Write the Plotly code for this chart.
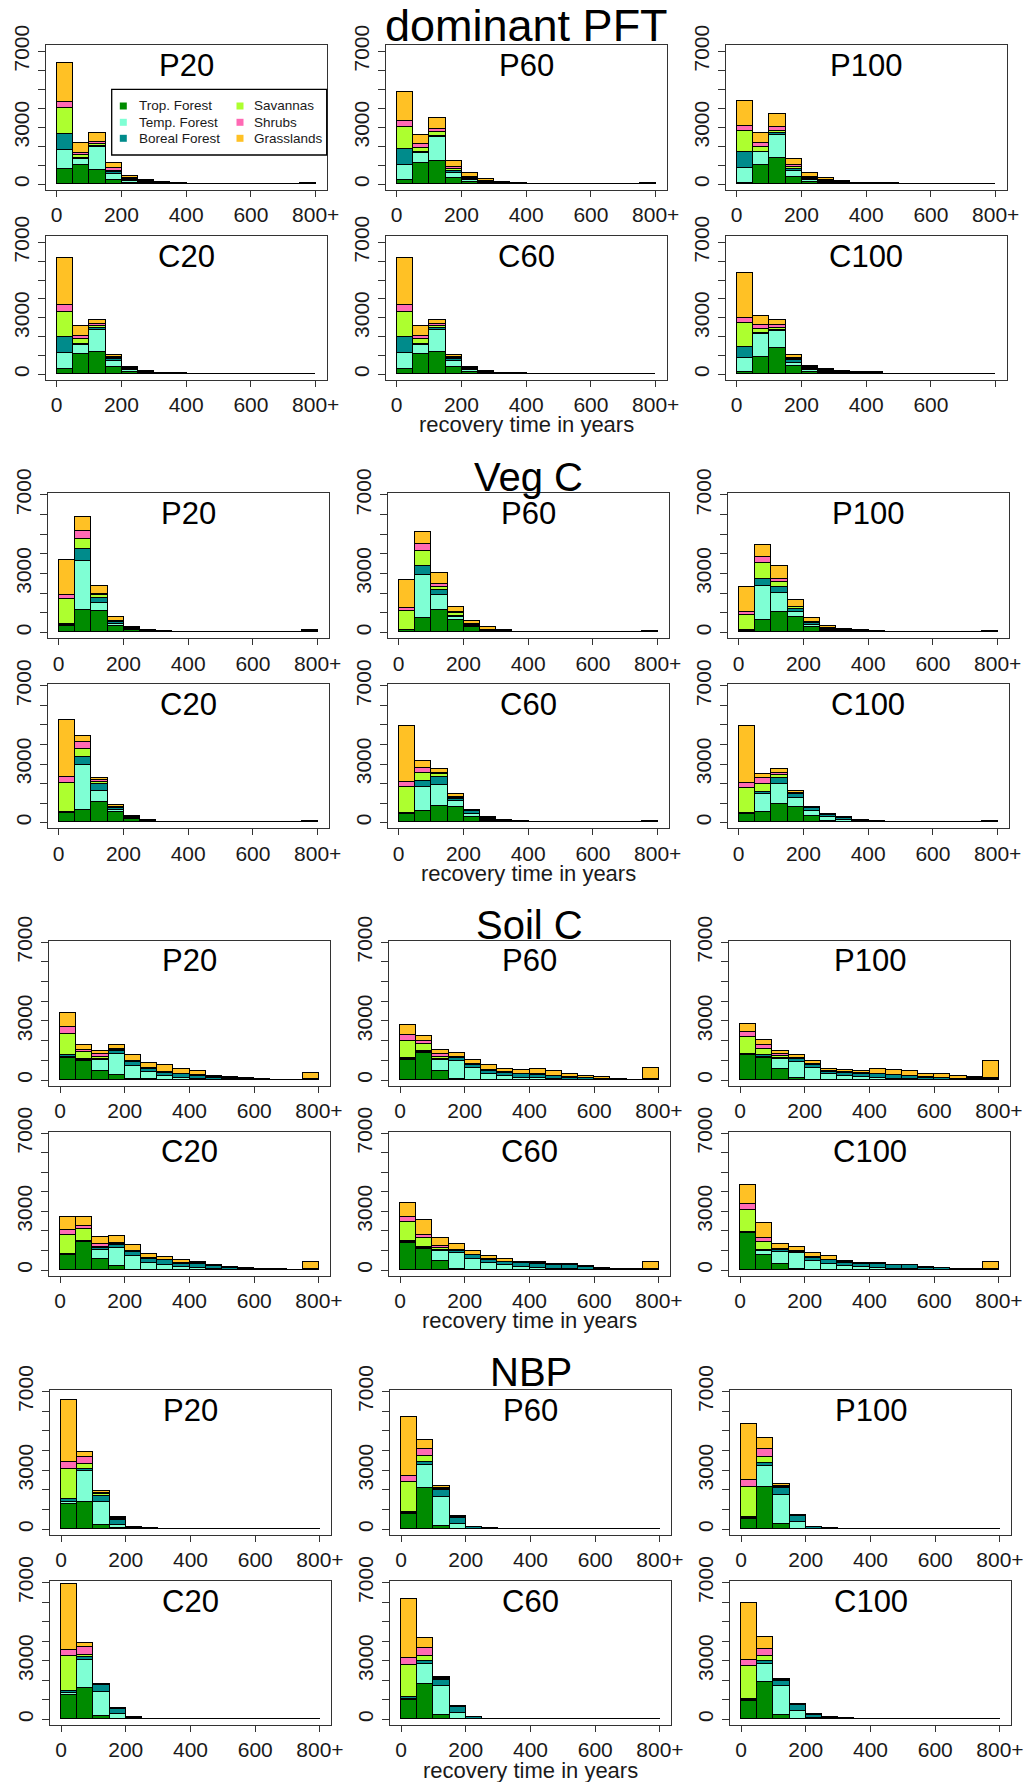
import plotly.graph_objects as go

W, H = 1025, 1782

# ---------------- data ----------------
categories = ["Trop. Forest", "Temp. Forest", "Boreal Forest", "Savannas", "Shrubs", "Grasslands"]
colors = ["#008B00", "#7FFFD4", "#008B8B", "#ADFF2F", "#FF69B4", "#FFC125"]
bin_left = [0, 50, 100, 150, 200, 250, 300, 350, 400, 450, 500, 550, 600, 650, 700, 750]
bin_width = 50

section_titles = ["dominant PFT", "Veg C", "Soil C", "NBP"]
section_title_sizes = [45, 40, 40, 40]
panel_titles = ["P20", "P60", "P100", "C20", "C60", "C100"]
x_label = "recovery time in years"
x_tick_vals = [0, 200, 400, 600, 800]
x_tick_text = ["0", "200", "400", "600", "800+"]
x_tick_text_short = ["0", "200", "400", "600", ""]
y_tick_vals = [0, 1000, 2000, 3000, 4000, 5000, 6000, 7000]
y_tick_text = ["0", "", "", "3000", "", "", "", "7000"]

# each row: one bin, values per category [trop, temp, boreal, sav, shrub, grass]
pft_P20 = [
    [790, 1020, 820, 1410, 310, 2050], [1020, 300, 80, 140, 130, 520],
    [750, 1200, 90, 80, 130, 430], [230, 310, 90, 90, 120, 260],
    [80, 100, 60, 60, 40, 100], [40, 50, 40, 30, 20, 50],
    [25, 30, 25, 20, 15, 25], [10, 15, 10, 10, 5, 10],
    [8, 10, 8, 6, 4, 4], [6, 8, 6, 4, 3, 3],
    [5, 6, 5, 4, 3, 2], [3, 4, 3, 2, 2, 1],
    [2, 3, 2, 1, 1, 1], [2, 2, 1, 1, 1, 1],
    [1, 1, 1, 1, 1, 1], [10, 10, 10, 10, 10, 10],
]
pft_P60 = [
    [230, 790, 840, 1180, 310, 1530], [1100, 530, 50, 250, 170, 500],
    [1250, 1220, 90, 180, 170, 560], [320, 290, 90, 90, 140, 300],
    [140, 80, 60, 50, 40, 210], [40, 40, 30, 20, 20, 110],
    [30, 30, 25, 20, 15, 20], [15, 15, 15, 10, 10, 15],
    [8, 8, 8, 6, 5, 5], [6, 6, 6, 5, 4, 3],
    [3, 3, 3, 2, 2, 2], [2, 2, 2, 1, 1, 1],
    [1, 1, 1, 1, 1, 1], [1, 1, 1, 1, 1, 1],
    [1, 1, 1, 1, 1, 1], [10, 10, 10, 10, 10, 10],
]
pft_P100 = [
    [90, 790, 800, 1140, 270, 1300], [1020, 660, 40, 260, 180, 520],
    [1370, 1230, 80, 140, 220, 640], [400, 320, 70, 140, 90, 310],
    [130, 90, 70, 60, 50, 180], [50, 60, 40, 40, 30, 130],
    [40, 40, 30, 25, 20, 25], [20, 20, 15, 15, 10, 10],
    [20, 20, 15, 15, 10, 10], [10, 10, 10, 8, 6, 6],
    [2, 2, 2, 1, 1, 1], [1, 1, 1, 1, 1, 1],
    [1, 1, 1, 1, 1, 1], [1, 1, 1, 1, 1, 1],
    [1, 1, 1, 1, 1, 1], [1, 1, 1, 1, 1, 1],
]
pft_C20 = [
    [300, 840, 820, 1370, 350, 2500], [1090, 490, 50, 250, 140, 520],
    [1190, 1180, 70, 100, 130, 220], [390, 310, 90, 50, 70, 110],
    [140, 80, 60, 40, 40, 40], [50, 40, 30, 20, 20, 20],
    [20, 20, 15, 10, 10, 5], [20, 15, 15, 10, 8, 5],
    [3, 3, 2, 2, 1, 1], [1, 1, 1, 1, 1, 1],
    [1, 1, 1, 1, 1, 1], [1, 1, 1, 1, 1, 1],
    [1, 1, 1, 1, 1, 1], [1, 1, 1, 1, 1, 1],
    [1, 1, 1, 1, 1, 1], [1, 1, 1, 1, 1, 1],
]
pft_C60 = [
    [300, 840, 820, 1370, 350, 2500], [1090, 490, 50, 250, 140, 520],
    [1190, 1180, 70, 100, 130, 220], [390, 310, 90, 50, 70, 110],
    [140, 80, 60, 40, 40, 40], [50, 40, 30, 20, 20, 20],
    [20, 20, 15, 10, 10, 5], [20, 15, 15, 10, 8, 5],
    [3, 3, 2, 2, 1, 1], [1, 1, 1, 1, 1, 1],
    [1, 1, 1, 1, 1, 1], [1, 1, 1, 1, 1, 1],
    [1, 1, 1, 1, 1, 1], [1, 1, 1, 1, 1, 1],
    [1, 1, 1, 1, 1, 1], [1, 1, 1, 1, 1, 1],
]
pft_C100 = [
    [120, 760, 560, 1280, 260, 2370], [910, 1230, 50, 230, 210, 480],
    [1400, 880, 50, 130, 170, 260], [440, 170, 130, 80, 60, 140],
    [120, 100, 80, 50, 40, 50], [60, 60, 50, 30, 30, 30],
    [40, 40, 30, 25, 20, 25], [30, 30, 25, 20, 15, 20],
    [30, 30, 25, 20, 15, 20], [5, 5, 4, 3, 2, 1],
    [1, 1, 1, 1, 1, 1], [1, 1, 1, 1, 1, 1],
    [1, 1, 1, 1, 1, 1], [1, 1, 1, 1, 1, 1],
    [1, 1, 1, 1, 1, 1], [1, 1, 1, 1, 1, 1],
]

vegc_P20 = [
    [310, 50, 60, 1290, 210, 1760], [1150, 2460, 630, 520, 380, 710],
    [1070, 420, 260, 130, 70, 420], [310, 100, 90, 30, 30, 200],
    [100, 40, 40, 15, 15, 60], [50, 30, 25, 10, 10, 15],
    [25, 15, 15, 5, 5, 5], [15, 8, 8, 3, 3, 3],
    [10, 6, 6, 3, 3, 2], [3, 2, 2, 1, 1, 1],
    [2, 2, 1, 1, 1, 1], [2, 1, 1, 1, 1, 1],
    [1, 1, 1, 1, 1, 1], [1, 1, 1, 1, 1, 1],
    [1, 1, 1, 1, 1, 1], [30, 20, 20, 10, 10, 10],
]
vegc_P60 = [
    [100, 20, 20, 930, 170, 1440], [730, 2170, 490, 730, 370, 610],
    [1150, 730, 290, 140, 150, 560], [640, 140, 70, 130, 50, 260],
    [270, 60, 50, 20, 20, 170], [60, 30, 20, 10, 10, 120],
    [40, 20, 15, 5, 5, 15], [15, 10, 8, 3, 2, 2],
    [8, 5, 4, 2, 2, 1], [6, 4, 3, 2, 2, 1],
    [5, 3, 3, 1, 1, 1], [1, 1, 1, 1, 1, 1],
    [1, 1, 1, 1, 1, 1], [1, 1, 1, 1, 1, 1],
    [1, 1, 1, 1, 1, 1], [25, 20, 15, 10, 5, 5],
]
vegc_P100 = [
    [80, 10, 10, 800, 130, 1280], [640, 1700, 370, 820, 280, 610],
    [1030, 970, 310, 230, 190, 630], [780, 250, 140, 100, 30, 330],
    [270, 120, 80, 20, 20, 220], [80, 60, 40, 20, 20, 120],
    [40, 40, 30, 15, 15, 50], [25, 25, 20, 10, 10, 10],
    [20, 20, 15, 5, 5, 5], [8, 8, 6, 3, 3, 2],
    [8, 8, 6, 3, 3, 2], [1, 1, 1, 1, 1, 1],
    [1, 1, 1, 1, 1, 1], [1, 1, 1, 1, 1, 1],
    [1, 1, 1, 1, 1, 1], [25, 20, 15, 5, 3, 2],
]
vegc_C20 = [
    [470, 40, 30, 1460, 340, 2910], [640, 2280, 440, 370, 370, 310],
    [1020, 590, 340, 120, 100, 120], [510, 120, 100, 40, 40, 70],
    [190, 40, 40, 20, 20, 30], [60, 15, 10, 5, 5, 5],
    [12, 6, 6, 2, 2, 2], [10, 5, 5, 2, 2, 1],
    [8, 4, 4, 2, 1, 1], [3, 2, 2, 1, 1, 1],
    [2, 1, 1, 1, 1, 1], [10, 6, 6, 3, 3, 2],
    [1, 1, 1, 1, 1, 1], [1, 1, 1, 1, 1, 1],
    [1, 1, 1, 1, 1, 1], [30, 20, 15, 5, 5, 5],
]
vegc_C60 = [
    [420, 30, 30, 1350, 240, 2880], [590, 1240, 290, 390, 290, 340],
    [850, 1050, 420, 140, 80, 170], [810, 290, 90, 80, 50, 120],
    [250, 170, 140, 30, 20, 20], [60, 60, 50, 30, 20, 30],
    [30, 30, 25, 15, 10, 10], [15, 12, 10, 5, 5, 3],
    [8, 6, 5, 3, 2, 1], [6, 5, 4, 2, 2, 1],
    [6, 5, 4, 2, 2, 1], [6, 5, 4, 2, 2, 1],
    [1, 1, 1, 1, 1, 1], [1, 1, 1, 1, 1, 1],
    [1, 1, 1, 1, 1, 1], [25, 20, 15, 5, 3, 2],
]
vegc_C100 = [
    [420, 30, 30, 1300, 250, 2890], [510, 930, 90, 420, 340, 200],
    [930, 1020, 340, 130, 120, 170], [810, 460, 170, 50, 30, 90],
    [310, 280, 120, 30, 20, 40], [80, 170, 120, 20, 15, 15],
    [30, 110, 70, 15, 10, 15], [15, 30, 30, 10, 10, 5],
    [10, 15, 15, 5, 3, 2], [5, 5, 5, 2, 2, 1],
    [5, 5, 5, 2, 2, 1], [1, 1, 1, 1, 1, 1],
    [1, 1, 1, 1, 1, 1], [1, 1, 1, 1, 1, 1],
    [1, 1, 1, 1, 1, 1], [25, 20, 15, 5, 3, 2],
]

soilc_P20 = [
    [1140, 60, 70, 1100, 340, 710], [980, 60, 60, 340, 90, 250],
    [470, 550, 80, 90, 130, 170], [290, 1070, 130, 50, 70, 200],
    [50, 660, 200, 30, 30, 300], [80, 340, 170, 20, 20, 270],
    [30, 170, 190, 30, 20, 320], [20, 110, 170, 20, 20, 220],
    [20, 60, 140, 20, 20, 210], [10, 30, 80, 15, 15, 70],
    [10, 20, 60, 20, 20, 40], [5, 10, 40, 15, 15, 15],
    [5, 10, 30, 10, 10, 15], [2, 3, 8, 3, 2, 2],
    [2, 3, 8, 3, 2, 2], [10, 10, 30, 10, 10, 300],
]
soilc_P60 = [
    [1050, 40, 40, 870, 290, 510], [1390, 50, 50, 340, 170, 240],
    [470, 550, 80, 90, 130, 210], [80, 900, 160, 30, 30, 210],
    [30, 610, 160, 20, 20, 180], [20, 320, 130, 20, 20, 250],
    [20, 180, 180, 20, 20, 170], [10, 130, 160, 20, 20, 200],
    [10, 90, 180, 20, 20, 270], [10, 60, 130, 20, 20, 220],
    [10, 30, 100, 20, 20, 160], [5, 20, 70, 15, 15, 95],
    [5, 15, 50, 10, 10, 80], [5, 10, 30, 10, 10, 15],
    [2, 4, 10, 5, 5, 4], [10, 10, 30, 10, 10, 560],
]
soilc_P100 = [
    [1270, 30, 30, 870, 260, 420], [1150, 40, 80, 310, 200, 290],
    [590, 480, 80, 80, 90, 170], [100, 830, 140, 30, 30, 140],
    [30, 610, 130, 20, 20, 170], [20, 290, 130, 15, 15, 120],
    [20, 200, 150, 15, 15, 110], [10, 160, 150, 15, 15, 120],
    [10, 110, 190, 15, 15, 220], [10, 70, 170, 20, 20, 250],
    [10, 50, 140, 20, 20, 220], [5, 30, 90, 15, 15, 155],
    [5, 20, 80, 15, 15, 175], [5, 10, 50, 10, 10, 115],
    [5, 10, 60, 15, 15, 65], [10, 10, 60, 15, 15, 870],
]
soilc_C20 = [
    [800, 20, 30, 960, 260, 640], [1470, 10, 20, 600, 170, 440],
    [580, 440, 120, 80, 120, 350], [200, 940, 170, 40, 40, 390],
    [40, 670, 220, 30, 20, 310], [30, 340, 210, 20, 20, 230],
    [20, 230, 260, 20, 20, 130], [10, 160, 170, 20, 20, 130],
    [10, 100, 210, 20, 20, 60], [10, 50, 170, 15, 15, 30],
    [5, 30, 80, 10, 10, 15], [5, 20, 50, 10, 10, 5],
    [5, 10, 40, 5, 5, 5], [3, 8, 25, 5, 5, 4],
    [2, 3, 8, 3, 2, 2], [10, 10, 30, 10, 10, 340],
]
soilc_C60 = [
    [1420, 30, 40, 1000, 260, 710], [1100, 40, 40, 460, 170, 770],
    [460, 510, 80, 90, 110, 390], [60, 820, 90, 30, 20, 320],
    [30, 560, 170, 20, 20, 170], [20, 350, 170, 20, 20, 170],
    [10, 240, 160, 20, 20, 130], [10, 150, 200, 20, 20, 10],
    [10, 130, 210, 20, 20, 20], [10, 80, 200, 20, 20, 10],
    [10, 70, 200, 20, 20, 20], [5, 30, 120, 15, 15, 15],
    [5, 20, 60, 10, 10, 15], [3, 8, 25, 5, 5, 4],
    [3, 8, 25, 5, 5, 4], [10, 10, 30, 10, 10, 350],
]
soilc_C100 = [
    [1900, 30, 40, 1110, 310, 1000], [800, 170, 60, 440, 210, 730],
    [340, 580, 100, 30, 30, 280], [50, 830, 60, 20, 20, 240],
    [30, 460, 140, 20, 20, 210], [20, 320, 170, 20, 20, 160],
    [10, 190, 170, 20, 20, 80], [10, 150, 180, 10, 10, 10],
    [10, 130, 200, 10, 10, 10], [10, 60, 180, 10, 10, 20],
    [10, 50, 190, 10, 10, 20], [5, 20, 110, 10, 10, 15],
    [5, 20, 90, 10, 10, 5], [5, 10, 40, 10, 10, 5],
    [3, 8, 25, 5, 5, 4], [10, 10, 40, 10, 10, 340],
]

nbp_P20 = [
    [1290, 120, 120, 1540, 370, 3140], [1370, 1600, 100, 250, 340, 260],
    [220, 1150, 340, 60, 60, 120], [50, 170, 250, 60, 50, 60],
    [10, 20, 40, 10, 10, 10], [5, 10, 20, 5, 5, 5],
    [2, 5, 8, 2, 2, 1], [0, 0, 0, 0, 0, 0],
    [0, 0, 0, 0, 0, 0], [0, 0, 0, 0, 0, 0],
    [0, 0, 0, 0, 0, 0], [0, 0, 0, 0, 0, 0],
    [0, 0, 0, 0, 0, 0], [0, 0, 0, 0, 0, 0],
    [0, 0, 0, 0, 0, 0], [0, 0, 0, 0, 0, 0],
]
nbp_P60 = [
    [760, 50, 50, 1560, 310, 3000], [2080, 1190, 140, 320, 340, 470],
    [170, 1460, 370, 60, 50, 90], [30, 220, 340, 40, 30, 30],
    [10, 30, 70, 10, 10, 10], [5, 10, 25, 5, 3, 2],
    [2, 5, 8, 2, 2, 1], [1, 2, 4, 1, 1, 1],
    [0, 0, 0, 0, 0, 0], [0, 0, 0, 0, 0, 0],
    [0, 0, 0, 0, 0, 0], [0, 0, 0, 0, 0, 0],
    [0, 0, 0, 0, 0, 0], [0, 0, 0, 0, 0, 0],
    [0, 0, 0, 0, 0, 0], [0, 0, 0, 0, 0, 0],
]
nbp_P100 = [
    [510, 60, 70, 1530, 340, 2850], [2140, 1100, 120, 330, 390, 580],
    [250, 1500, 330, 60, 40, 130], [30, 360, 290, 20, 15, 15],
    [10, 30, 70, 10, 10, 10], [5, 10, 25, 5, 3, 2],
    [2, 5, 8, 2, 2, 1], [2, 5, 8, 2, 2, 1],
    [0, 0, 0, 0, 0, 0], [0, 0, 0, 0, 0, 0],
    [0, 0, 0, 0, 0, 0], [0, 0, 0, 0, 0, 0],
    [0, 0, 0, 0, 0, 0], [0, 0, 0, 0, 0, 0],
    [0, 0, 0, 0, 0, 0], [0, 0, 0, 0, 0, 0],
]
nbp_C20 = [
    [1270, 80, 90, 1780, 340, 3390], [1610, 1440, 140, 120, 370, 220],
    [170, 1240, 370, 20, 10, 20], [30, 220, 260, 40, 20, 20],
    [10, 20, 50, 10, 5, 5], [5, 10, 20, 3, 1, 1],
    [2, 5, 8, 2, 2, 1], [0, 0, 0, 0, 0, 0],
    [0, 0, 0, 0, 0, 0], [0, 0, 0, 0, 0, 0],
    [0, 0, 0, 0, 0, 0], [0, 0, 0, 0, 0, 0],
    [0, 0, 0, 0, 0, 0], [0, 0, 0, 0, 0, 0],
    [0, 0, 0, 0, 0, 0], [0, 0, 0, 0, 0, 0],
]
nbp_C60 = [
    [980, 80, 80, 1660, 340, 3010], [1830, 1020, 120, 250, 420, 510],
    [220, 1510, 300, 60, 30, 30], [30, 280, 320, 20, 15, 15],
    [10, 30, 70, 10, 10, 10], [5, 10, 20, 3, 1, 1],
    [3, 8, 12, 3, 2, 2], [2, 5, 8, 2, 2, 1],
    [0, 0, 0, 0, 0, 0], [0, 0, 0, 0, 0, 0],
    [0, 0, 0, 0, 0, 0], [0, 0, 0, 0, 0, 0],
    [0, 0, 0, 0, 0, 0], [0, 0, 0, 0, 0, 0],
    [0, 0, 0, 0, 0, 0], [0, 0, 0, 0, 0, 0],
]
nbp_C100 = [
    [930, 60, 60, 1660, 340, 2920], [1920, 930, 120, 250, 370, 600],
    [220, 1470, 290, 40, 25, 25], [30, 390, 310, 10, 10, 10],
    [10, 60, 140, 20, 10, 10], [10, 30, 50, 10, 10, 10],
    [5, 10, 20, 5, 5, 5], [4, 10, 15, 5, 3, 3],
    [2, 5, 8, 2, 2, 1], [2, 5, 8, 2, 2, 1],
    [2, 5, 8, 2, 2, 1], [0, 0, 0, 0, 0, 0],
    [0, 0, 0, 0, 0, 0], [0, 0, 0, 0, 0, 0],
    [0, 0, 0, 0, 0, 0], [0, 0, 0, 0, 0, 0],
]

sections = [
    [pft_P20, pft_P60, pft_P100, pft_C20, pft_C60, pft_C100],
    [vegc_P20, vegc_P60, vegc_P100, vegc_C20, vegc_C60, vegc_C100],
    [soilc_P20, soilc_P60, soilc_P100, soilc_C20, soilc_C60, soilc_C100],
    [nbp_P20, nbp_P60, nbp_P100, nbp_C20, nbp_C60, nbp_C100],
]

# ---------------- layout geometry (pixels) ----------------
sec_x0 = [45.7, 47.7, 49.0, 50.0]
col_dx = 340
box_w = 281
rows_px = [
    [(45, 190), (236, 380)],
    [(493.3, 638.3), (684.3, 828.3)],
    [(940.7, 1085.7), (1131.7, 1275.7)],
    [(1390, 1535), (1581, 1725)],
]
y_ranges = [[-300, 7332], [-290, 7082], [-290, 7082], [-290, 7082]]
x_range = [-34, 834]
title_y = [25.5, 477.5, 924.5, 1372]

FONT = "Liberation Sans, Arial, sans-serif"
TXT = "#1a1a1a"
LINE = "#333333"


def px_x(p):
    return p / W


def px_y(p):
    return 1 - p / H


bin_mid = [b + bin_width / 2 for b in bin_left]

fig = go.Figure()
layout = {}
annotations = []
shapes = []
n = 0
for s in range(4):
    for r in range(2):
        for c in range(3):
            n += 1
            data = sections[s][r * 3 + c]
            xa = "x" if n == 1 else f"x{n}"
            ya = "y" if n == 1 else f"y{n}"
            for k in range(6):
                fig.add_trace(go.Bar(
                    x=bin_mid, y=[row[k] for row in data], width=[bin_width] * len(bin_mid),
                    marker=dict(color=colors[k], line=dict(color="black", width=1)),
                    xaxis=xa, yaxis=ya, showlegend=False, hoverinfo="skip",
                    name=categories[k]))
            x0 = sec_x0[s] + c * col_dx
            x1 = x0 + box_w
            y0, y1 = rows_px[s][r]
            ttext = x_tick_text_short if (s == 0 and r == 1 and c == 2) else x_tick_text
            layout["xaxis" if n == 1 else f"xaxis{n}"] = dict(
                domain=[px_x(x0), px_x(x1)], range=x_range, anchor=ya,
                showline=True, mirror=True, linecolor=LINE, linewidth=1.3,
                ticks="outside", ticklen=6, tickwidth=1.2, tickcolor=LINE,
                tickvals=x_tick_vals, ticktext=ttext,
                tickfont=dict(size=21, color=TXT, family=FONT),
                showgrid=False, zeroline=False, fixedrange=True, automargin=False)
            layout["yaxis" if n == 1 else f"yaxis{n}"] = dict(
                domain=[px_y(y1), px_y(y0)], range=y_ranges[s], anchor=xa,
                showline=True, mirror=True, linecolor=LINE, linewidth=1.3,
                ticks="outside", ticklen=7, tickwidth=1.2, tickcolor=LINE,
                tickvals=y_tick_vals, ticktext=y_tick_text, tickangle=-90,
                tickfont=dict(size=21, color=TXT, family=FONT),
                showgrid=False, zeroline=False, fixedrange=True, automargin=False)
            annotations.append(dict(
                text=panel_titles[r * 3 + c], x=px_x((x0 + x1) / 2), y=px_y(y0 + 20),
                xref="paper", yref="paper", xanchor="center", yanchor="middle",
                showarrow=False, font=dict(size=31, color="black", family=FONT)))
    cx = sec_x0[s] + col_dx + box_w / 2
    annotations.append(dict(
        text=section_titles[s], x=px_x(cx), y=px_y(title_y[s]),
        xref="paper", yref="paper", xanchor="center", yanchor="middle",
        showarrow=False, font=dict(size=section_title_sizes[s], color="black", family=FONT)))
    annotations.append(dict(
        text=x_label, x=px_x(cx), y=px_y(rows_px[s][1][1] + 45),
        xref="paper", yref="paper", xanchor="center", yanchor="middle",
        showarrow=False, font=dict(size=22, color=TXT, family=FONT)))

# ---------------- legend (drawn in first panel) ----------------
leg_x0, leg_x1, leg_y0, leg_y1 = 111.7, 326.7, 89.3, 155
shapes.append(dict(type="rect", xref="paper", yref="paper",
                   x0=px_x(leg_x0), x1=px_x(leg_x1), y0=px_y(leg_y1), y1=px_y(leg_y0),
                   line=dict(color="black", width=1.3), fillcolor="white", layer="above"))
leg_rows = [106, 122.3, 138.3]
leg_cols = [(123.3, 136.7), (240, 252.3)]
for k, cat in enumerate(categories):
    mx, tx = leg_cols[k // 3]
    my = leg_rows[k % 3]
    shapes.append(dict(type="rect", xref="paper", yref="paper",
                       x0=px_x(mx - 3.5), x1=px_x(mx + 3.5), y0=px_y(my + 3.5), y1=px_y(my - 3.5),
                       line=dict(width=0), fillcolor=colors[k], layer="above"))
    annotations.append(dict(text=cat, x=px_x(tx), y=px_y(my), xref="paper", yref="paper",
                            xanchor="left", yanchor="middle", showarrow=False,
                            font=dict(size=13.5, color=TXT, family=FONT)))

fig.update_layout(
    width=W, height=H, margin=dict(l=0, r=0, t=0, b=0, pad=0, autoexpand=False),
    paper_bgcolor="white", plot_bgcolor="white",
    barmode="stack", bargap=0, showlegend=False,
    font=dict(family=FONT, color=TXT),
    annotations=annotations, shapes=shapes, **layout)

fig.write_html("out.html")
